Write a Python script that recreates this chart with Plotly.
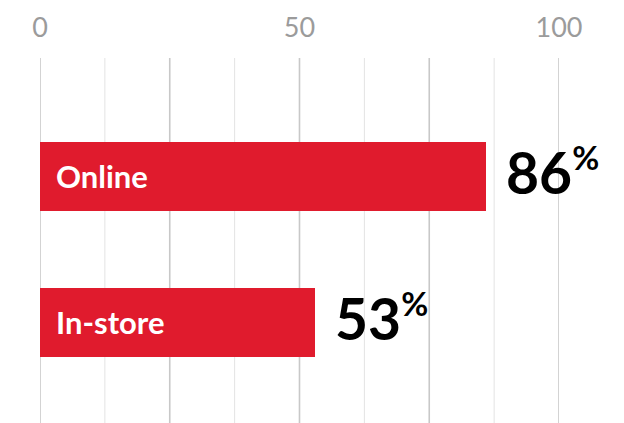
import plotly.graph_objects as go

categories = ["Online", "In-store"]
values = [86, 53]
label_ticks = [0, 50, 100]
major_grid = [0, 25, 50, 75, 100]
minor_grid = [12.5, 37.5, 62.5, 87.5]

RED = "#E01B2D"
positions = list(range(len(categories)))

fig = go.Figure()
fig.add_trace(go.Bar(
    x=values, y=positions, orientation="h",
    marker=dict(color=RED, line=dict(width=0)),
    width=0.47, hoverinfo="skip", showlegend=False,
))

shapes = []
for g in minor_grid:
    shapes.append(dict(type="line", xref="x", yref="paper", x0=g, x1=g, y0=0, y1=1,
                       line=dict(color="#e3e3e3", width=1), layer="below"))
for g in major_grid:
    shapes.append(dict(type="line", xref="x", yref="paper", x0=g, x1=g, y0=0, y1=1,
                       line=dict(color="#c8c8c8", width=1.6), layer="below"))

annotations = []
for pos, cat, val in zip(positions, categories, values):
    annotations.append(dict(
        x=0, y=pos, xref="x", yref="y", text=f"<b>{cat}</b>",
        showarrow=False, xanchor="left", yanchor="middle", xshift=14,
        font=dict(family="Lato", size=31, color="white"),
    ))
    annotations.append(dict(
        x=val, y=pos, xref="x", yref="y",
        text=f"<b>{val}<sup><span style='font-size:33px'>%</span></sup></b>",
        showarrow=False, xanchor="left", yanchor="middle", xshift=18, yshift=5,
        font=dict(family="Lato", size=57, color="black"),
    ))

fig.update_layout(
    width=624, height=423,
    margin=dict(l=40, r=65, t=58, b=0),
    paper_bgcolor="white", plot_bgcolor="white",
    bargap=0,
    shapes=shapes,
    annotations=annotations,
    xaxis=dict(
        range=[0, 100], side="top",
        tickvals=label_ticks, ticktext=[str(v) for v in label_ticks],
        showgrid=False, zeroline=False, showline=False, ticks="",
        tickfont=dict(family="Lato", size=27, color="#9b9b9b"),
        ticklabelstandoff=15,
        fixedrange=True,
    ),
    yaxis=dict(
        range=[1.69, -0.81], showgrid=False, zeroline=False,
        showticklabels=False, ticks="", showline=False, fixedrange=True,
    ),
)

fig.write_html("out.html")
